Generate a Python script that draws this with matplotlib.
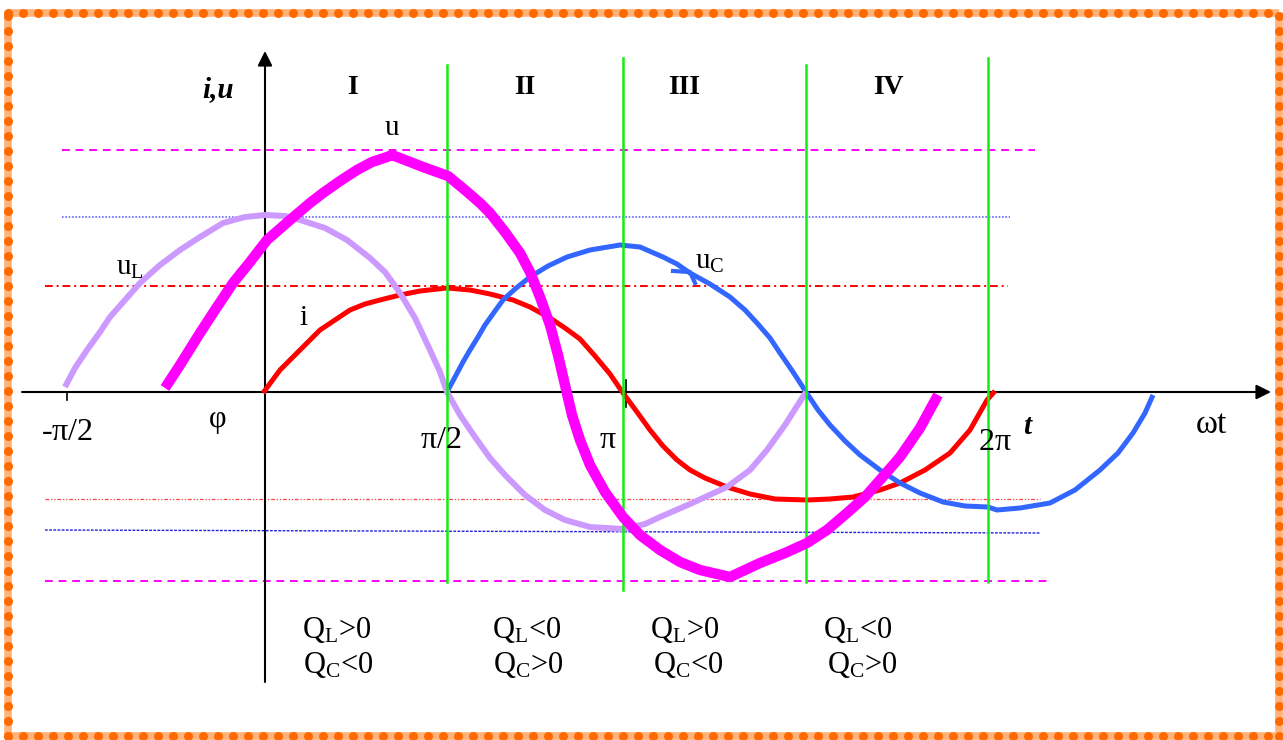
import numpy as np
import matplotlib.pyplot as plt

plt.rcParams['font.family'] = ['Liberation Serif', 'DejaVu Serif']
plt.rcParams['mathtext.fontset'] = 'custom'
plt.rcParams['mathtext.rm'] = 'Liberation Serif'
plt.rcParams['mathtext.it'] = 'Liberation Serif:italic'
plt.rcParams['mathtext.bf'] = 'Liberation Serif:bold'

# curves: phase offset from the i,u axis, amplitude above the wt axis
uL_x = [-200, -190, -178, -165, -155, -140, -125, -105, -85, -65, -42, -20, 0, 20, 35, 60, 82, 105, 120,
        135, 150, 165, 175, 182, 195, 210, 225, 240, 260, 280, 300, 325, 358, 380, 395, 425, 462, 485,
        502, 520, 541]
uL_y = [5, 24, 42, 60, 75, 92, 109, 127, 142, 155, 169, 175, 177, 176, 172, 164, 152, 134, 120,
        99, 74, 42, 20, 0, -23, -45, -66, -83, -103, -118, -128, -135, -137, -132, -125, -112, -95, -78,
        -58, -33, 0]

u_x = [-100, -85, -65, -50, -32, -15, 2, 25, 45, 58, 75, 92, 107, 122, 127, 140, 158, 183, 200, 215,
       225, 240, 255, 265, 275, 285, 293, 300, 307, 315, 325, 340, 358, 375, 395, 415, 435, 465, 480,
       495, 520, 542, 562, 582, 600, 615, 635, 655, 673]
u_y = [4, 27, 59, 82, 109, 130, 152, 172, 189, 199, 211, 222, 230, 235, 237, 232, 225, 216, 202, 189,
       179, 160, 139, 120, 95, 67, 37, 7, -23, -48, -73, -100, -125, -143, -158, -170, -178, -185, -178,
       -171, -161, -151, -138, -121, -105, -88, -65, -36, -3]

i_x = [-2, 15, 35, 55, 70, 85, 100, 115, 135, 155, 182, 205, 225, 248, 265, 285, 300, 315, 330, 345,
       358, 372, 385, 398, 412, 425, 440, 462, 485, 510, 542, 565, 588, 615, 635, 660, 685, 705, 722, 730]
i_y = [-1, 22, 42, 62, 72, 82, 88, 92, 97, 101, 104, 102, 98, 92, 85, 74, 64, 53, 36, 18,
       -1, -20, -38, -54, -68, -78, -86, -95, -102, -107, -108, -107, -105, -98, -91, -78, -61, -38, -8, 1]

uC_x = [182, 190, 198, 205, 213, 220, 230, 238, 250, 265, 283, 302, 325, 355, 375, 398, 412, 425, 445,
        465, 480, 492, 505, 515, 528, 541, 553, 565, 580, 595, 615, 635, 655, 678, 700, 723, 732, 755,
        785, 810, 835, 853, 868, 880, 888]
uC_y = [0, 15, 30, 42, 55, 67, 81, 92, 103, 115, 126, 135, 142, 147, 145, 135, 128, 119, 108,
        95, 82, 69, 54, 39, 20, 0, -18, -33, -49, -63, -78, -91, -101, -110, -114, -115, -118, -116,
        -111, -98, -78, -61, -41, -21, -3]

# reference levels (y, x from, x to)
u_levels = [(242, -203, 770), (-189, -220, 783)]
uL_levels = [(175, -203, 745), (-138, -220, 775)]
i_levels = [(106, -220, 743), (-107, -220, 775)]

# period boundaries (x, y bottom, y top)
bounds = [(182, -190, 327), (358, -198, 334), (541, -190, 327), (723, -190, 334)]

x_ticks = [(-198, r'-$\mathregular{\pi}$/2', -41), (176, r'$\mathregular{\pi}$/2', -48),
           (343, r'$\mathregular{\pi}$', -48), (730, r'2$\mathregular{\pi}$', -50)]
region_names = ['I', 'II', 'III', 'IV']
region_x = [87, 260, 419, 623]
q_L = [r'Q$_\mathregular{L}$>0', r'Q$_\mathregular{L}$<0', r'Q$_\mathregular{L}$>0', r'Q$_\mathregular{L}$<0']
q_C = [r'Q$_\mathregular{C}$<0', r'Q$_\mathregular{C}$>0', r'Q$_\mathregular{C}$<0', r'Q$_\mathregular{C}$>0']
q_L_x = [72, 262, 420, 593]
q_C_x = [73, 263, 423, 597]

fig = plt.figure(figsize=(12.83, 7.40), dpi=100)
ax = fig.add_axes([0, 0, 1, 1])
ax.set_xlim(-265, 1018)
ax.set_ylim(-348, 392)
ax.axis('off')

# orange beaded frame
orange = '#FF6A00'
L, R, B, T = -257, 1014, -344, 379
for xs, ys in [([L, R], [T, T]), ([L, R], [B, B]), ([L, L], [B, T]), ([R, R], [B, T])]:
    ax.plot(xs, ys, color='#FFB27A', lw=5.5, solid_capstyle='butt', zorder=1)
bx = np.arange(L, R, 15)
by = np.arange(B, T, 15)
ax.plot(bx, np.full_like(bx, T), 'o', color=orange, ms=6.5, mec='none', zorder=2)
ax.plot(bx, np.full_like(bx, B), 'o', color=orange, ms=6.5, mec='none', zorder=2)
ax.plot(np.full_like(by, L), by, 'o', color=orange, ms=6.5, mec='none', zorder=2)
ax.plot(np.full_like(by, R), by, 'o', color=orange, ms=6.5, mec='none', zorder=2)

# reference levels
for y, x0, x1 in u_levels:
    ax.plot([x0, x1], [y, y], color='#FF00FF', lw=1.4, dashes=(4, 3), zorder=3)
ax.plot([uL_levels[0][1], uL_levels[0][2]], [uL_levels[0][0]] * 2, color='#6666FF', lw=1.2, dashes=(1, 1), zorder=3)
ax.plot([uL_levels[1][1], uL_levels[1][2]], [uL_levels[1][0], uL_levels[1][0] - 3], color='#2222DD', lw=1.0,
        dashes=(2, 1), zorder=3)
ax.plot([i_levels[0][1], i_levels[0][2]], [i_levels[0][0]] * 2, color='#FF0000', lw=1.4, dashes=(4, 2, 1, 2), zorder=3)
ax.plot([i_levels[1][1], i_levels[1][2]], [i_levels[1][0]] * 2, color='#FF4040', lw=0.9,
        dashes=(3, 1.5, 1, 1.5, 1, 1.5), zorder=3)

# axes with arrows
ax.annotate('', xy=(1006, 0), xytext=(-243, 0),
            arrowprops=dict(arrowstyle='-|>', color='k', lw=1.5, mutation_scale=22, shrinkA=0, shrinkB=0), zorder=4)
ax.annotate('', xy=(0, 341), xytext=(0, -290),
            arrowprops=dict(arrowstyle='-|>', color='k', lw=1.5, mutation_scale=22, shrinkA=0, shrinkB=0), zorder=4)
ax.plot([-198, -198], [0, -8], color='k', lw=1.2, zorder=4)
ax.plot([361, 361], [12, -15], color='k', lw=1.2, zorder=4)

# curves
ax.plot(i_x, i_y, color='#FF0000', lw=3.6, solid_joinstyle='round', solid_capstyle='butt', zorder=5)
ax.plot(uC_x, uC_y, color='#3366FF', lw=3.6, solid_joinstyle='round', solid_capstyle='butt', zorder=5)
ax.plot([408, 425, 430], [121, 120, 109], color='#3366FF', lw=3, zorder=5)
ax.plot(uL_x, uL_y, color='#CC99FF', lw=4.3, solid_joinstyle='round', solid_capstyle='butt', zorder=6)
for x, y0, y1 in bounds:
    ax.plot([x, x], [y0, y1], color='#11EE11', lw=1.8, zorder=7)
ax.plot(u_x, u_y, color='#FF00FF', lw=7.5, solid_joinstyle='round', solid_capstyle='butt', zorder=8)

# labels
for x, lab, y in x_ticks:
    ax.text(x, y, lab, fontsize=23, ha='center', va='center', zorder=9)
ax.text(-48, -29, r'$\mathregular{\varphi}$', fontsize=22, ha='center', va='center')
ax.text(762, -35, 't', fontsize=21, fontweight='bold', style='italic', ha='center', va='center')
ax.text(947, -33, r'$\mathregular{\omega}$t', fontsize=24, ha='center', va='center')
ax.text(-47, 302, 'i,u', fontsize=21, fontweight='bold', style='italic', ha='center', va='center')
for x, name in zip(region_x, region_names):
    ax.text(x, 304, name, fontsize=20, fontweight='bold', ha='center', va='center')
ax.text(127, 264, 'u', fontsize=21, ha='center', va='center')
ax.text(-135, 124, r'u$_\mathregular{L}$', fontsize=21, ha='center', va='center')
ax.text(39, 74, 'i', fontsize=21, ha='center', va='center')
ax.text(445, 130, r'u$_\mathregular{C}$', fontsize=21, ha='center', va='center')
for x, lab in zip(q_L_x, q_L):
    ax.text(x, -238, lab, fontsize=22, ha='center', va='center')
for x, lab in zip(q_C_x, q_C):
    ax.text(x, -273, lab, fontsize=22, ha='center', va='center')

plt.savefig('out.png', dpi=100, facecolor='white')
